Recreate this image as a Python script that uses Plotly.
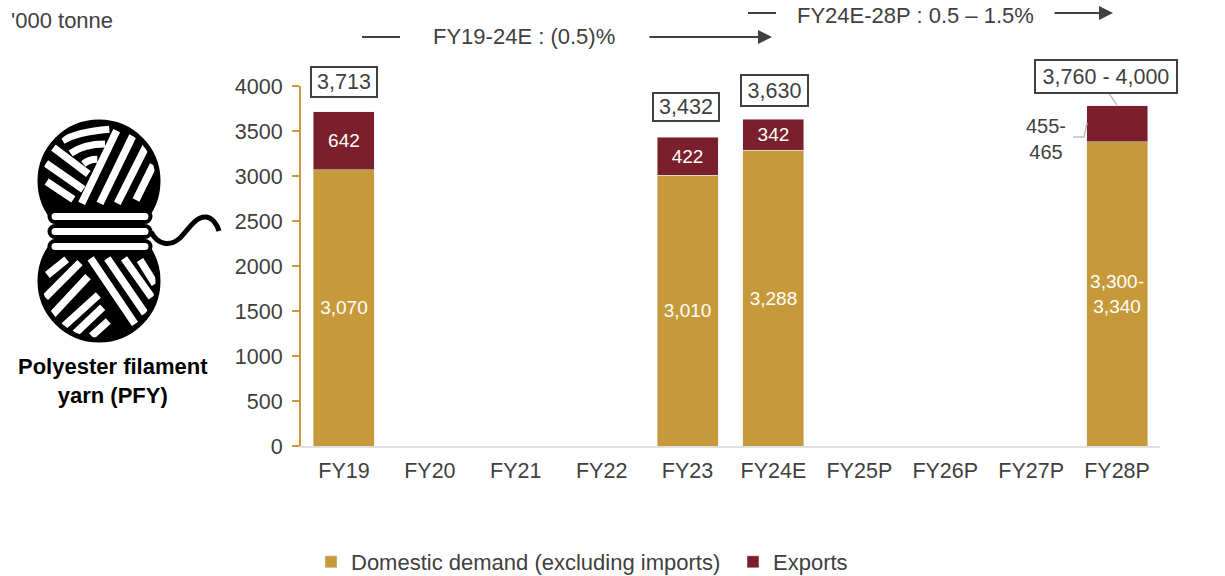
import plotly.graph_objects as go

categories = ["FY19", "FY20", "FY21", "FY22", "FY23", "FY24E", "FY25P", "FY26P", "FY27P", "FY28P"]
domestic = [3070, None, None, None, 3010, 3288, None, None, None, 3380]
exports = [642, None, None, None, 422, 342, None, None, None, 400]
domestic_labels = ["3,070", "", "", "", "3,010", "3,288", "", "", "", "3,300-<br>3,340"]
export_labels = ["642", "", "", "", "422", "342", "", "", "", ""]
total_labels = {"FY19": "3,713", "FY23": "3,432", "FY24E": "3,630", "FY28P": "3,760 - 4,000"}

W, H = 1225, 576
L, R, T, B = 301, 1160, 86, 446
GOLD, MAROON, TXT = "#C69A3A", "#7A1F2B", "#404040"
FONT = "Liberation Sans, Arial, sans-serif"
FS = 21.5


def px(x):
    return (x - L) / (R - L)


def py(y):
    return (B - y) / (B - T)


shapes, annotations = [], []


def line(x0, y0, x1, y1, color=TXT, width=2):
    shapes.append(dict(type="line", xref="paper", yref="paper", x0=px(x0), y0=py(y0), x1=px(x1), y1=py(y1),
                       line=dict(color=color, width=width), layer="above"))


def path(points, color="#000000", width=7):
    d = "M" + " L".join(f"{px(a):.5f},{py(b):.5f}" for a, b in points)
    shapes.append(dict(type="path", xref="paper", yref="paper", path=d, line=dict(color=color, width=width), layer="above"))


def curve(start, segments, color="#000000", width=5):
    d = f"M{px(start[0]):.5f},{py(start[1]):.5f}"
    for seg in segments:
        d += " C" + " ".join(f"{px(a):.5f},{py(b):.5f}" for a, b in seg)
    shapes.append(dict(type="path", xref="paper", yref="paper", path=d, line=dict(color=color, width=width), layer="above"))


def circle(cx, cy, r, fill, ring=None):
    shapes.append(dict(type="circle", xref="paper", yref="paper", x0=px(cx - r), x1=px(cx + r), y0=py(cy - r), y1=py(cy + r),
                       fillcolor=fill, line=dict(width=ring or 0, color="#000000"), layer="above"))


def rect(x0, y0, x1, y1, fill):
    shapes.append(dict(type="rect", xref="paper", yref="paper", x0=px(x0), x1=px(x1), y0=py(y0), y1=py(y1),
                       fillcolor=fill, line=dict(width=0), layer="above"))


def z(x, y):
    return (x / 3, 100 + y / 3)


# yarn icon (decoration)
circle(99, 181, 61, "#000000")
circle(99, 281, 61, "#000000")
for a, b in [
    ((245, 310), (350, 92)), ((300, 310), (398, 108)), ((352, 310), (440, 135)), ((408, 300), (460, 195)),
    ((150, 135), (265, 222)), ((138, 190), (250, 268)), ((140, 245), (220, 298)),
    ((142, 525), (200, 478)), ((136, 592), (240, 488)), ((152, 650), (264, 530)), ((188, 682), (295, 585)),
    ((226, 700), (308, 622)), ((275, 708), (325, 663)),
    ((272, 475), (405, 672)), ((322, 475), (435, 640)), ((372, 475), (455, 592)), ((420, 480), (465, 552)),
]:
    path([z(*a), z(*b)], color="#FFFFFF", width=7.5)
curve(z(188, 122), [(z(225, 100), z(280, 92), z(328, 88))], color="#FFFFFF", width=7)
curve(z(212, 160), [(z(240, 140), z(280, 132), z(315, 132))], color="#FFFFFF", width=7)
curve(z(250, 192), [(z(262, 182), z(278, 178), z(292, 178))], color="#FFFFFF", width=7)
circle(99, 181, 59, "rgba(0,0,0,0)", ring=5)
circle(99, 281, 59, "rgba(0,0,0,0)", ring=5)
rect(55, 206, 145, 254, "#000000")
for yc in (216.5, 231.5, 246.5):
    circle(55, yc, 7.5, "#000000")
    circle(145, yc, 7.5, "#000000")
    rect(55, yc - 3.5, 145, yc + 3.5, "#FFFFFF")
    circle(55, yc, 3.5, "#FFFFFF")
    circle(145, yc, 3.5, "#FFFFFF")
curve((151, 232), [((158, 245), (170, 247), (180, 238)), ((188, 230), (195, 217), (205, 217)), ((212, 217), (217, 224), (219, 231))])

# growth arrows
line(362, 37, 400, 37)
line(748, 13, 776, 13)
for x0, x1, y in [(648, 772, 37), (1053, 1113, 13)]:
    annotations.append(dict(xref="paper", yref="paper", x=px(x1), y=py(y), ax=x0 - x1, ay=0, axref="pixel", ayref="pixel",
                            text="", showarrow=True, arrowhead=2, arrowsize=1.4, arrowwidth=2, arrowcolor=TXT))

# leader lines
line(1108, 92, 1117, 105, color="#BFBFBF", width=1.5)
path([(1073, 137), (1084, 137), (1087, 123)], color="#BFBFBF", width=1.5)


def text(x, y, s, size=22, color=TXT, bold=False, align="center"):
    annotations.append(dict(xref="paper", yref="paper", x=px(x), y=py(y), text=f"<b>{s}</b>" if bold else s, showarrow=False,
                            xanchor=align, yanchor="middle", align="center", font=dict(size=size, color=color, family=FONT)))


text(9, 20, "'000 tonne", align="left")
text(524, 36, "FY19-24E : (0.5)%")
text(915, 15, "FY24E-28P : 0.5 – 1.5%")
text(1046, 139, "455-<br>465", size=20)
text(113, 381, "Polyester filament<br>yarn (PFY)", color="#000000", bold=True)

box_geom = {"FY19": (344, 82, 66, 30), "FY23": (686, 107, 66, 28), "FY24E": (774, 91, 67, 31), "FY28P": (1106, 76, 142, 33)}
for key, label in total_labels.items():
    cx, cy, bw, bh = box_geom[key]
    annotations.append(dict(xref="paper", yref="paper", x=px(cx), y=py(cy), text=label, showarrow=False, xanchor="center", yanchor="middle",
                            width=bw - 2, height=bh - 2, bordercolor=TXT, borderwidth=2, bgcolor="#FFFFFF", borderpad=0,
                            font=dict(size=21.5, color=TXT, family=FONT)))

fig = go.Figure()
fig.add_bar(name="Domestic demand (excluding imports)", x=categories, y=domestic, marker=dict(color=GOLD),
            text=domestic_labels, textposition="inside", insidetextanchor="middle", textangle=0,
            insidetextfont=dict(color="#FFFFFF", size=19, family=FONT), constraintext="none", hoverinfo="x+y")
fig.add_bar(name="Exports", x=categories, y=exports, marker=dict(color=MAROON),
            text=export_labels, textposition="inside", insidetextanchor="middle", textangle=0,
            insidetextfont=dict(color="#FFFFFF", size=19, family=FONT), constraintext="none", hoverinfo="x+y")

fig.update_layout(
    width=W, height=H, autosize=False, barmode="stack", bargap=0.29,
    margin=dict(l=L, r=W - R, t=T, b=H - B, pad=0, autoexpand=False),
    paper_bgcolor="#FFFFFF", plot_bgcolor="#FFFFFF",
    font=dict(family=FONT, size=FS, color=TXT),
    xaxis=dict(type="category", categoryorder="array", categoryarray=categories, showgrid=False, showline=True,
               linecolor="#E0E0E0", linewidth=2, ticks="", tickfont=dict(size=FS, color=TXT), ticklabelstandoff=4),
    yaxis=dict(range=[0, 4000], dtick=500, showgrid=False, showline=True, linecolor=GOLD, linewidth=2,
               ticks="outside", tickcolor=GOLD, tickwidth=2, ticklen=7, tickfont=dict(size=FS, color=TXT), zeroline=False,
               ticklabelstandoff=5),
    legend=dict(orientation="h", x=px(311), y=py(562), xanchor="left", yanchor="middle", font=dict(size=22, color=TXT),
                bgcolor="rgba(0,0,0,0)", traceorder="normal", entrywidth=377, entrywidthmode="pixels"),
    shapes=shapes, annotations=annotations,
)
fig.write_html("out.html", config=dict(displayModeBar=False), post_script="document.body.style.margin='0';")
